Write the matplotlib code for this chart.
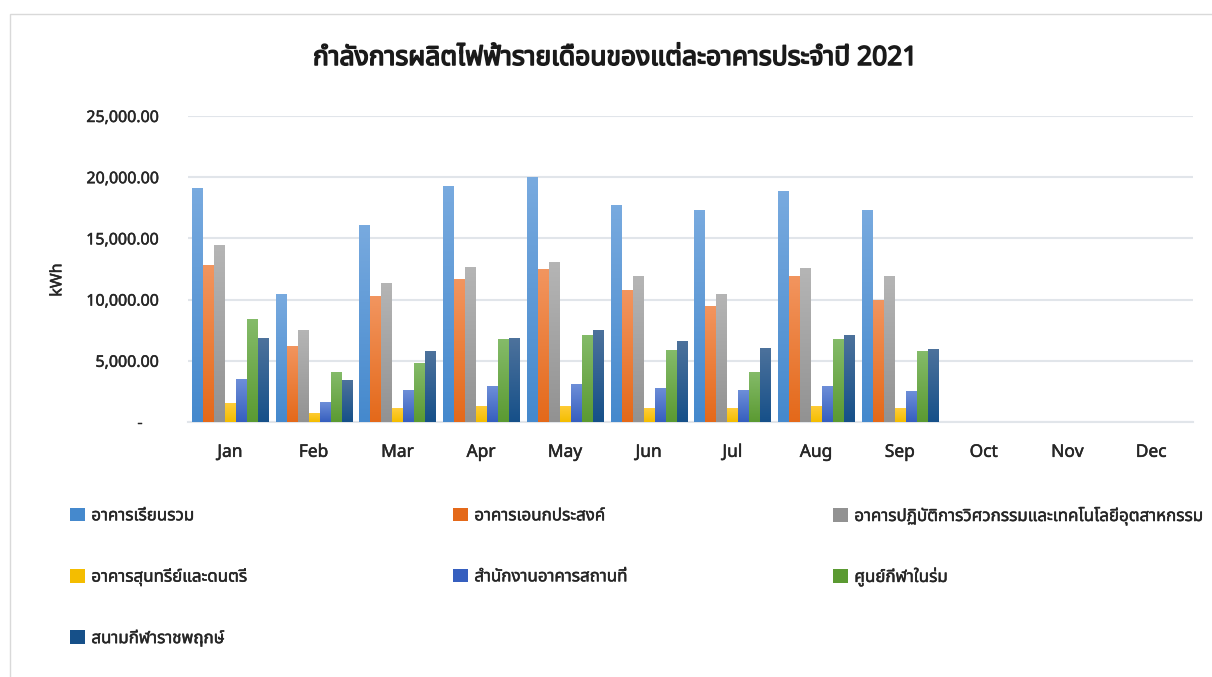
import matplotlib
matplotlib.use("Agg")
import matplotlib.pyplot as plt
import matplotlib.patheffects as pe
import numpy as np
from matplotlib import font_manager
from matplotlib.ft2font import FT2Font
from matplotlib.colors import LinearSegmentedColormap
from matplotlib.patches import Rectangle

# data (kWh)
months = ["Jan", "Feb", "Mar", "Apr", "May", "Jun", "Jul", "Aug", "Sep", "Oct", "Nov", "Dec"]
names = ["อาคารเรียนรวม", "อาคารเอนกประสงค์", "อาคารปฏิบัติการวิศวกรรมและเทคโนโลยีอุตสาหกรรม",
         "อาคารสุนทรีย์และดนตรี", "สำนักงานอาคารสถานที่", "ศูนย์กีฬาในร่ม", "สนามกีฬาราชพฤกษ์"]
nan = np.nan
lecture = [19100, 10450, 16100, 19280, 20000, 17730, 17320, 18870, 17320, nan, nan, nan]
multi = [12830, 6210, 10290, 11680, 12500, 10780, 9480, 11930, 9970, nan, nan, nan]
eng_lab = [14460, 7520, 11360, 12660, 13070, 11930, 10460, 12580, 11930, nan, nan, nan]
music = [1550, 740, 1140, 1310, 1310, 1140, 1140, 1310, 1140, nan, nan, nan]
office = [3510, 1630, 2610, 2940, 3100, 2780, 2610, 2940, 2530, nan, nan, nan]
indoor = [8410, 4080, 4820, 6780, 7110, 5880, 4080, 6780, 5800, nan, nan, nan]
stadium = [6860, 3430, 5800, 6860, 7520, 6620, 6050, 7110, 5960, nan, nan, nan]
series = [lecture, multi, eng_lab, music, office, indoor, stadium]

# gradient colours (top, bottom)
grads = [("#78aadf", "#4589cd"), ("#f2955f", "#e4691a"), ("#b5b5b5", "#929292"),
         ("#ffcd3a", "#f4bd00"), ("#6d8ed8", "#365fbf"), ("#84bb69", "#5b9a32"),
         ("#4d729c", "#165089")]

# find a font that has Thai glyphs
thai = None
for name in ["Noto Sans Thai", "Noto Sans Thai UI", "Noto Sans", "Tahoma", "Loma", "Garuda", "Sarabun"]:
    try:
        p = font_manager.findfont(name, fallback_to_default=False)
        if 0x0E01 in FT2Font(p).get_charmap():
            thai = name
            break
    except Exception:
        pass
if thai is None:
    for f in font_manager.fontManager.ttflist:
        try:
            if 0x0E01 in FT2Font(f.fname).get_charmap():
                thai = f.name
                break
        except Exception:
            pass
fams = [thai, "DejaVu Sans"] if thai else ["DejaVu Sans"]
plt.rcParams["font.family"] = fams

txt = "#262626"
semi = [pe.withStroke(linewidth=0.35, foreground=txt)]
fig = plt.figure(figsize=(12.12, 6.77), dpi=100)
fig.patches.append(Rectangle((10 / 1212, -0.01), 1.0, 1 - 14 / 677 + 0.01, transform=fig.transFigure,
                             fill=False, edgecolor="#d9d9d9", linewidth=1))
ax = fig.add_axes([188 / 1212, 1 - 422 / 677, 1005 / 1212, 306 / 677])

x = np.arange(len(months))
step = 0.1314
bw = 0.12
for i, vals in enumerate(series):
    top, bot = grads[i]
    cmap = LinearSegmentedColormap.from_list("g%d" % i, [bot, top])
    xs = x + (i - 3) * step
    bars = ax.bar(xs, np.nan_to_num(vals), width=bw, color=bot, zorder=2, label=names[i])
    for b, v in zip(bars, vals):
        if np.isnan(v):
            continue
        x0 = b.get_x()
        im = ax.imshow(np.linspace(0, 1, 64).reshape(-1, 1), extent=[x0, x0 + bw, 0, v],
                       origin="lower", aspect="auto", cmap=cmap, zorder=3, interpolation="bilinear")
        im.set_clip_path(b)

ax.set_xlim(-0.5, 11.5)
ax.set_ylim(0, 25000)
ax.set_aspect("auto")
ax.set_yticks(np.arange(0, 25001, 5000))
ax.set_yticklabels(["-    "] + ["{:,.2f}".format(v) for v in range(5000, 25001, 5000)])
ax.set_xticks(x)
ax.set_xticklabels(months)
ax.tick_params(axis="y", length=0, pad=21, labelsize=11.5, labelcolor=txt)
ax.tick_params(axis="x", length=0, pad=15, labelsize=12.5, labelcolor=txt)
for t in ax.get_xticklabels() + ax.get_yticklabels():
    t.set_path_effects(semi)
ax.grid(axis="y", color="#e1e5ea", linewidth=1.5, zorder=0)
for s in ["top", "right", "left"]:
    ax.spines[s].set_visible(False)
ax.spines["bottom"].set_color("#e1e5ea")
ax.spines["bottom"].set_linewidth(1.5)
ax.set_ylabel("kWh", fontsize=11.5, color=txt, path_effects=semi)
ax.yaxis.set_label_coords(-0.122, 0.464)

fig.text(615 / 1212, 1 - 58 / 677, "กำลังการผลิตไฟฟ้ารายเดือนของแต่ละอาคารประจำปี 2021",
         ha="center", va="center", fontsize=19, color="#1a1a1a",
         path_effects=[pe.withStroke(linewidth=1.1, foreground="#1a1a1a")])

# legend: one entry per slot, rows and columns placed like the original
handles, labels = ax.get_legend_handles_labels()
xpos = [70, 453, 833]
ypos = [516, 577, 638]
for k in range(len(names)):
    r, c = divmod(k, 3)
    leg = fig.legend([handles[k]], [labels[k]], loc="center left",
                     bbox_to_anchor=(xpos[c] / 1212, 1 - ypos[r] / 677), frameon=False,
                     fontsize=12.2, handlelength=0.86, handleheight=0.86, handletextpad=0.4,
                     borderpad=0, borderaxespad=0, labelcolor=txt)
    for t in leg.get_texts():
        t.set_path_effects(semi)

fig.savefig("out.png", dpi=100, facecolor="white")
